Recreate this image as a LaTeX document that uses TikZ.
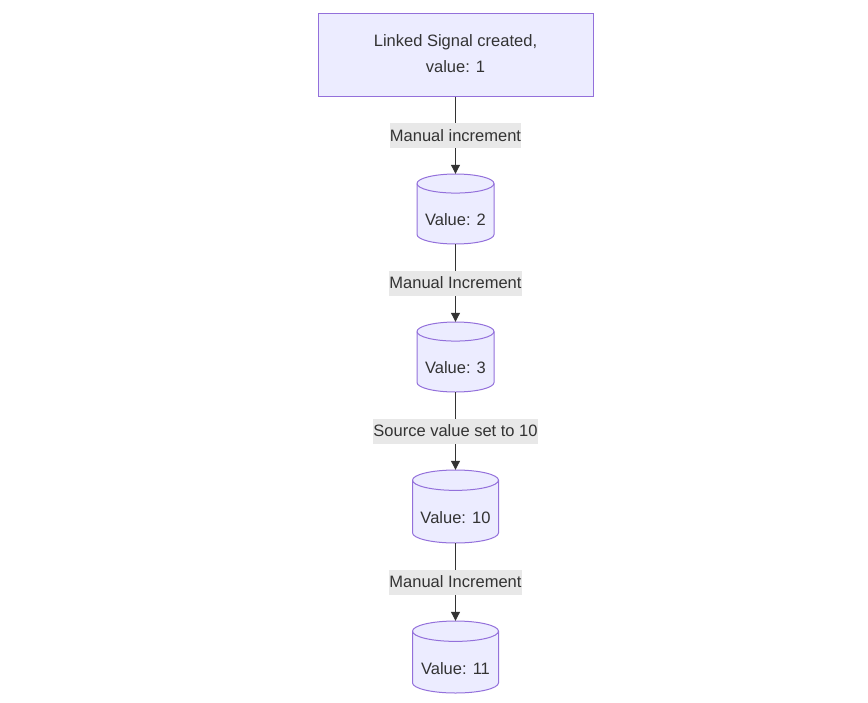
\documentclass[tikz,border=0pt]{standalone}
\usepackage{fontspec}
\setmainfont{Liberation Sans}
\usetikzlibrary{arrows.meta}
\definecolor{nodefill}{HTML}{ECECFF}
\definecolor{nodeline}{HTML}{9370DB}
\definecolor{ink}{HTML}{333333}
\definecolor{lblbg}{HTML}{E8E8E8}
\tikzset{
  cylstyle/.style={fill=nodefill, draw=nodeline, line width=1pt},
  boxstyle/.style={rectangle, fill=nodefill, draw=nodeline, line width=1pt, text=ink, font=\fontsize{16.5}{25}\selectfont, align=center, minimum width=275pt, minimum height=83pt, inner sep=0pt},
  txt/.style={text=ink, font=\fontsize{16.5}{19}\selectfont, inner sep=0pt},
  lbl/.style={fill=lblbg, text=ink, font=\fontsize{16.5}{19}\selectfont, inner xsep=0pt, inner ysep=4pt, minimum height=25pt},
  conn/.style={draw=ink, line width=1pt, -{Triangle[length=9pt,width=9pt]}}
}
\newcommand{\mycyl}[6]{%
  \pgfmathsetmacro\cyA{#4/2}%
  \pgfmathsetmacro\cyR{\cyA/(2.5+#4/50)}%
  \pgfmathsetmacro\cyT{#3+#5/2}%
  \pgfmathsetmacro\cyB{#3-#5/2}%
  \filldraw[cylstyle] (#2-\cyA,\cyT-\cyR) -- (#2-\cyA,\cyB+\cyR)
     arc[start angle=180,end angle=360,x radius=\cyA,y radius=\cyR]
     -- (#2+\cyA,\cyT-\cyR)
     arc[start angle=0,end angle=180,x radius=\cyA,y radius=\cyR] -- cycle;
  \draw[cylstyle, fill=none] (#2-\cyA,\cyT-\cyR)
     arc[start angle=180,end angle=360,x radius=\cyA,y radius=\cyR];
  \node[minimum width=#4pt, minimum height=#5pt, inner sep=0pt] (#1) at (#2,#3) {};
  \node[txt] (#1t) at (#2,#3-\cyR-1) {#6};
}
\begin{document}
\begin{tikzpicture}[x=1pt,y=1pt]
\useasboundingbox (0,0) rectangle (868,-702);
\node[boxstyle] (A) at (455.5,-54.5) {};
\node[txt] (A1) at (455.5,-42) {Linked Signal created,};
\node[txt] (A2) at (455.5,-67) {value: 1};
\mycyl{B}{455.5}{-209}{77}{70}{Value: 2}
\mycyl{C}{455.5}{-357}{77}{70}{Value: 3}
\mycyl{D}{455.5}{-506.5}{86}{73}{Value: 10}
\mycyl{E}{455.5}{-657}{86}{72}{Value: 11}
\draw[conn] (A.south) -- node[lbl]{Manual increment} (B.north);
\draw[conn] (B.south) -- node[lbl]{Manual Increment} (C.north);
\draw[conn] (C.south) -- node[lbl]{Source value set to 10} (D.north);
\draw[conn] (D.south) -- node[lbl]{Manual Increment} (E.north);
\end{tikzpicture}
\end{document}
